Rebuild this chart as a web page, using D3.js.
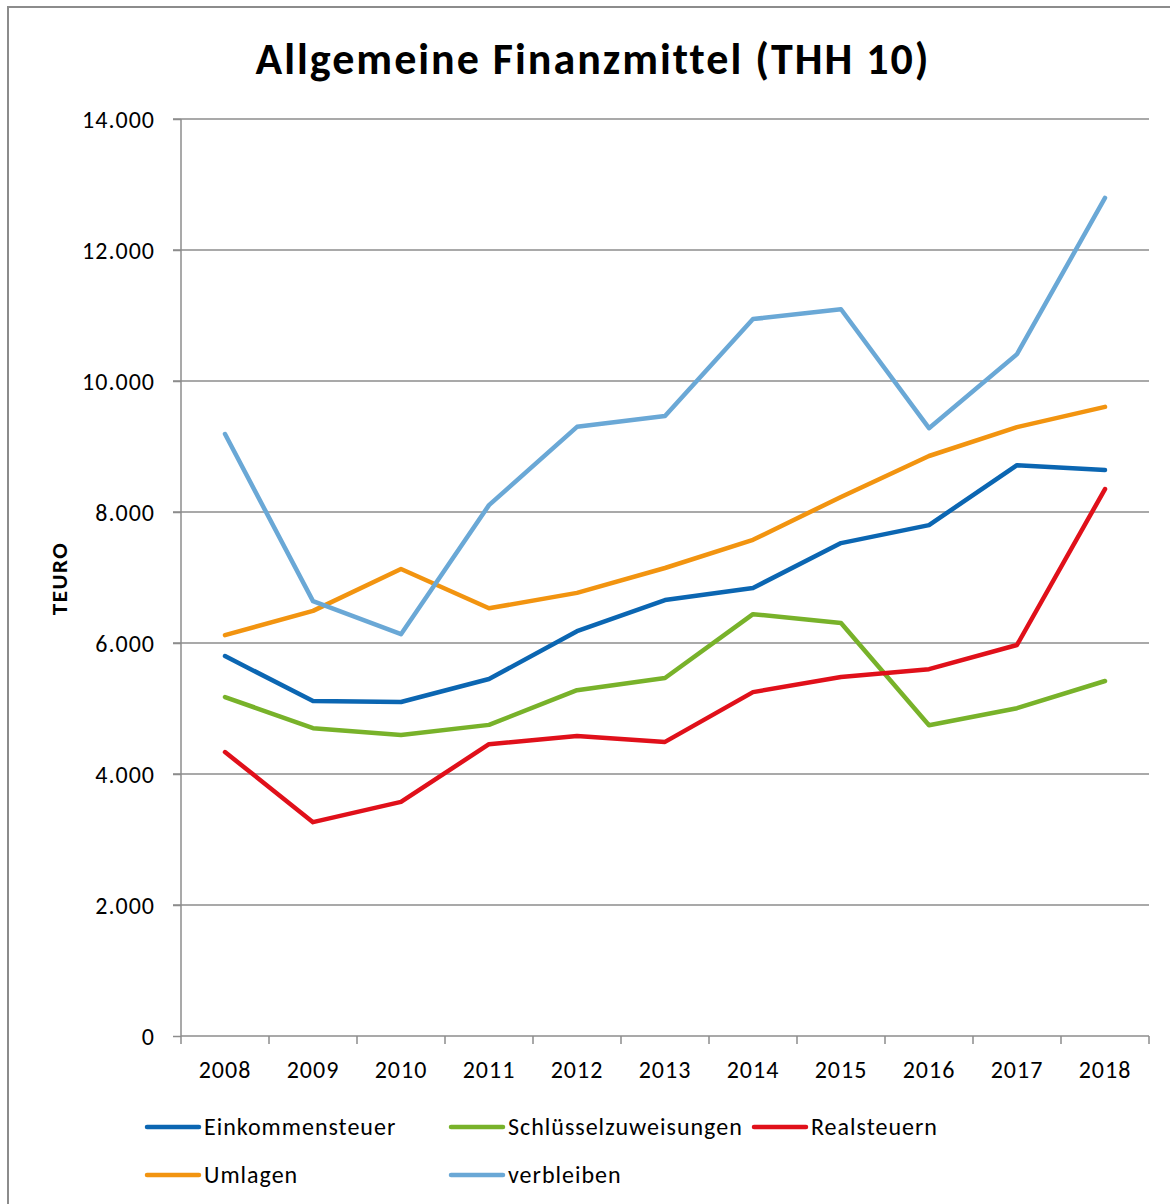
<!DOCTYPE html>
<html>
<head>
  <meta charset="utf-8" />
  <script src="https://d3js.org/d3.v7.min.js"></script>
</head>
<style>
body { margin: 0; background: #fff; }
text { font-family: Carlito, Lato, "Open Sans", sans-serif; fill: #000; }
</style>
<body>
<div id="viz"></div>
<script>
'use strict';

const years = ['2008','2009','2010','2011','2012','2013','2014','2015','2016','2017','2018'];
const einkommensteuer = [5800, 5115, 5100, 5450, 6180, 6655, 6840, 7525, 7800, 8715, 8640];
const schluessel = [5175, 4700, 4595, 4750, 5280, 5465, 6440, 6305, 4745, 5005, 5420];
const realsteuern = [4335, 3265, 3575, 4455, 4580, 4490, 5250, 5480, 5600, 5970, 8350];
const umlagen = [6120, 6490, 7130, 6530, 6765, 7145, 7575, 8230, 8855, 9295, 9605];
const verbleiben = [9190, 6640, 6135, 8105, 9300, 9465, 10945, 11095, 9280, 10410, 12795];
const yTicks = [0, 2000, 4000, 6000, 8000, 10000, 12000, 14000];

const series = [
  {name: 'Einkommensteuer', values: einkommensteuer, color: '#0b66b2'},
  {name: 'Schlüsselzuweisungen', values: schluessel, color: '#78b22a'},
  {name: 'Realsteuern', values: realsteuern, color: '#e0101a'},
  {name: 'Umlagen', values: umlagen, color: '#f29410'},
  {name: 'verbleiben', values: verbleiben, color: '#6aa8d6'}
];

const W = 1170, H = 1204;
const svg = d3.select('#viz').append('svg')
  .attr('width', W).attr('height', H);

// chart border (cut at right/bottom like the original)
svg.append('rect')
  .attr('x', 8).attr('y', 7).attr('width', 1200).attr('height', 1250)
  .attr('fill', 'none').attr('stroke', '#8c8c8c').attr('stroke-width', 2);

svg.append('text')
  .attr('x', 593).attr('y', 74)
  .attr('text-anchor', 'middle')
  .style('font-size', '44px').style('font-weight', 'bold')
  .style('letter-spacing', '2px')
  .text('Allgemeine Finanzmittel (THH 10)');

const pLeft = 181, pRight = 1149, pTop = 119, pBottom = 1036;

const x = d3.scaleBand().domain(years).range([pLeft, pRight]);
const y = d3.scaleLinear().domain([0, 14000]).range([pBottom, pTop]);

// gridlines
svg.append('g').selectAll('line').data(yTicks.filter(d => d > 0)).join('line')
  .attr('x1', pLeft - 8).attr('x2', pRight)
  .attr('y1', d => y(d)).attr('y2', d => y(d))
  .attr('stroke', '#8c8c8c').attr('stroke-width', 1.5);

const fmt = d3.format(',.0f');
const de = v => fmt(v).replace(/,/g, '.');

// y axis
const yAxis = svg.append('g')
  .attr('transform', 'translate(' + pLeft + ',0)')
  .call(d3.axisLeft(y).tickValues(yTicks).tickSize(8).tickPadding(18).tickFormat(de));
yAxis.select('.domain').attr('stroke', '#8c8c8c').attr('stroke-width', 1.5).attr('d', 'M0,' + pTop + 'V' + pBottom);
yAxis.selectAll('.tick line').attr('stroke', '#8c8c8c').attr('stroke-width', 1.5);
yAxis.selectAll('.tick text').style('font-size', '24px').style('letter-spacing', '1px').attr('dy', '0.35em');

// x axis
const xAxis = svg.append('g')
  .attr('transform', 'translate(0,' + pBottom + ')')
  .call(d3.axisBottom(x).tickSize(0).tickPadding(25));
xAxis.select('.domain').attr('stroke', '#8c8c8c').attr('stroke-width', 1.5).attr('d', 'M' + pLeft + ',0H' + pRight);
xAxis.selectAll('.tick text').style('font-size', '24px').style('letter-spacing', '1px');
const bounds = years.map(d => x(d)).concat([pRight]);
svg.append('g').selectAll('line').data(bounds).join('line')
  .attr('x1', d => d).attr('x2', d => d)
  .attr('y1', pBottom).attr('y2', pBottom + 8)
  .attr('stroke', '#8c8c8c').attr('stroke-width', 1.5);

svg.append('text')
  .attr('transform', 'translate(67,' + ((pTop + pBottom) / 2 + 1) + ') rotate(-90)')
  .attr('text-anchor', 'middle')
  .style('font-size', '23px').style('font-weight', 'bold')
  .style('letter-spacing', '1.5px')
  .text('TEURO');

const line = d3.line()
  .x((d, i) => x(years[i]) + x.bandwidth() / 2)
  .y(d => y(d));

svg.append('g').selectAll('path').data(series).join('path')
  .attr('d', s => line(s.values))
  .attr('fill', 'none')
  .attr('stroke', s => s.color)
  .attr('stroke-width', 4.5)
  .attr('stroke-linejoin', 'round')
  .attr('stroke-linecap', 'round');

// legend
const legPos = [[145, 1127], [449, 1127], [752, 1127], [145, 1175], [449, 1175]];
const leg = svg.append('g').selectAll('g').data(series).join('g')
  .attr('transform', (s, i) => 'translate(' + legPos[i][0] + ',' + legPos[i][1] + ')');
leg.append('line')
  .attr('x1', 2).attr('x2', 54)
  .attr('stroke', s => s.color).attr('stroke-width', 4.5).attr('stroke-linecap', 'round');
leg.append('text')
  .attr('x', 59).attr('dy', '0.35em')
  .style('font-size', '24px').style('letter-spacing', '1px')
  .text(s => s.name);
</script>
</body>
</html>
